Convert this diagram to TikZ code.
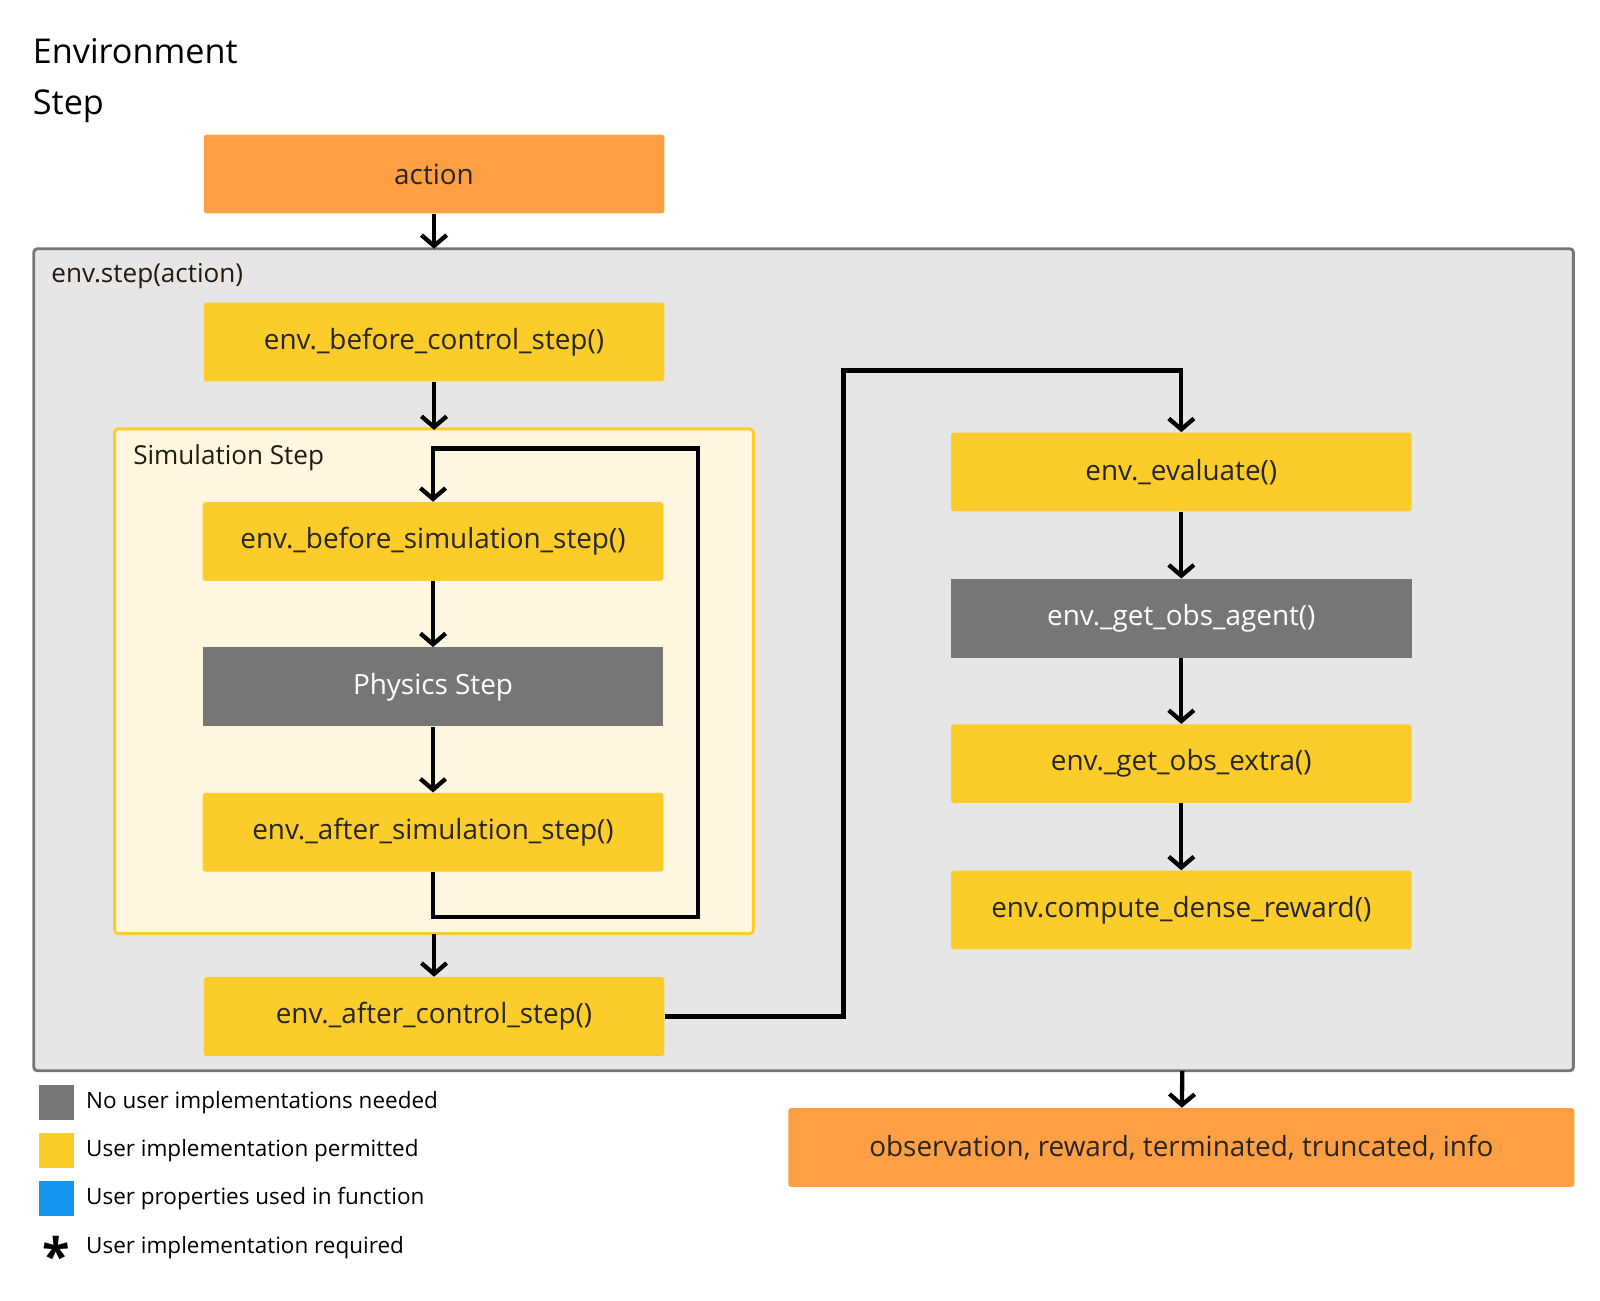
\documentclass[tikz,border=0pt]{standalone}
\usepackage{fontspec}
\setmainfont{Open Sans}
\usetikzlibrary{arrows.meta,positioning}
\definecolor{actorange}{HTML}{FF9F43}
\definecolor{useryellow}{HTML}{FCCC2A}
\definecolor{sysgray}{HTML}{767676}
\definecolor{envgray}{HTML}{E6E6E6}
\definecolor{simcream}{HTML}{FFF6E0}
\definecolor{userblue}{HTML}{1296F0}
\tikzset{
    box/.style={rectangle, minimum width=9cm, minimum height=1.54cm, inner sep=0pt, font=\fontsize{15.5}{18}\selectfont},
    user/.style={box, fill=useryellow, text=black!85, rounded corners=1.5pt},
    fixed/.style={box, fill=sysgray, text=white},
    io/.style={box, fill=actorange, text=black!85, rounded corners=1.5pt},
    flow/.style={line width=2.4pt, -{Straight Barb[length=6pt, width=14pt, line width=2.4pt]}},
    key/.style={rectangle, minimum size=0.68cm, inner sep=0pt},
    keytext/.style={anchor=west, font=\fontsize{12.5}{14}\selectfont},
}
\begin{document}
\begin{tikzpicture}[x=0.02cm, y=-0.02cm]
    \useasboundingbox (0,0) rectangle (1563,1270);

    \node[anchor=west, font=\fontsize{19}{22}\selectfont] (title1) at (26,50) {Environment};
    \node[anchor=west, font=\fontsize{19}{22}\selectfont] (title2) at (26,104) {Step};

    % outer frame
    \filldraw[fill=envgray, draw=sysgray, line width=1.6pt, rounded corners=2pt] (33,243) rectangle (1537,1046);
    \node[anchor=west, font=\fontsize{14.5}{17}\selectfont, text=black!80!brown] (steplbl) at (44,270) {env.step(action)};

    % simulation frame
    \filldraw[fill=simcream, draw=useryellow, line width=1.6pt, rounded corners=2pt] (112,419) rectangle (736,912);
    \node[anchor=west, font=\fontsize{14.5}{17}\selectfont, text=black!80!brown] (simlbl) at (124,447) {Simulation Step};

    \node[io] (action) at (424,170) {action};
    \coordinate (envtop) at (424,243);
    \node[user] (beforectrl) at (424,334) {env.\_before\_control\_step()};
    \coordinate (simtop) at (424,420);
    \node[user] (beforesim) at (423,529) {env.\_before\_simulation\_step()};
    \node[fixed] (physics) at (423,671) {Physics Step};
    \node[user] (aftersim) at (423,813) {env.\_after\_simulation\_step()};
    \coordinate (simbot) at (424,912);
    \node[user] (afterctrl) at (424,993) {env.\_after\_control\_step()};

    \node[user] (evaluate) at (1154,461) {env.\_evaluate()};
    \node[fixed] (obsagent) at (1154,604) {env.\_get\_obs\_agent()};
    \node[user] (obsextra) at (1154,746) {env.\_get\_obs\_extra()};
    \node[user] (reward) at (1154,889) {env.compute\_dense\_reward()};
    \coordinate (envbot) at (1155,1046);
    \node[io, minimum width=15.36cm] (output) at (1154,1121) {observation, reward, terminated, truncated, info};

    \draw[flow] (action) -- (envtop);
    \draw[flow] (beforectrl) -- (simtop);
    \draw[flow] (beforesim) -- (physics);
    \draw[flow] (physics) -- (aftersim);
    \draw[flow] (aftersim.south) -- ++(0,44) -| (682,438) -| (beforesim.north);
    \draw[flow] (simbot) -- (afterctrl);
    \draw[flow] (afterctrl.east) -| (824,362) -| (evaluate.north);
    \draw[flow] (evaluate) -- (obsagent);
    \draw[flow] (obsagent) -- (obsextra);
    \draw[flow] (obsextra) -- (reward);
    \draw[flow] (envbot) -- (output);

    % legend
    \node[key, fill=sysgray] (keyfixed) at (55,1077) {};
    \node[key, fill=useryellow] (keyuser) at (55,1124) {};
    \node[key, fill=userblue] (keyprop) at (55,1171) {};
    \node[font=\fontsize{28}{28}\bfseries\selectfont, inner sep=0pt] (keyreq) at (55,1226) {*};
    \node[keytext] at (78,1077) {No user implementations needed};
    \node[keytext] at (78,1124) {User implementation permitted};
    \node[keytext] at (78,1171) {User properties used in function};
    \node[keytext] at (78,1219) {User implementation required};
\end{tikzpicture}
\end{document}
